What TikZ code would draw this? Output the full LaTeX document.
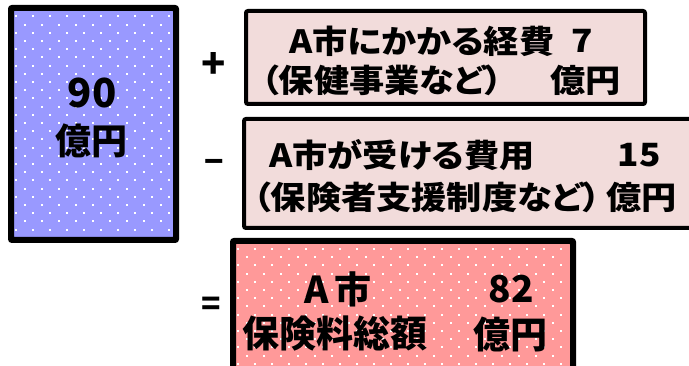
\documentclass[tikz,border=0pt]{standalone}
\usepackage{fontspec}
\setmainfont{Noto Sans CJK JP}[RawFeature=+palt]
\newfontfamily\widejp{Noto Sans CJK JP}[RawFeature=+palt,FakeStretch=1.1]
\usetikzlibrary{positioning}
\definecolor{sumblue}{RGB}{153,153,255}
\definecolor{palepink}{RGB}{242,220,219}
\definecolor{rosepink}{RGB}{255,153,153}
\tikzset{%
  every box/.style={draw=black,line width=4pt,rounded corners=2pt,anchor=north west,inner sep=0pt},
  lbl/.style={inner sep=0pt,font=\widejp\bfseries\fontsize{32}{32}\selectfont},
}

\begin{document}
\begin{tikzpicture}[x=1pt,y=-1pt,
            bigl/.style={inner sep=0pt,font=\bfseries\fontsize{37}{37}\selectfont},
            op/.style={inner sep=0pt,font=\bfseries\fontsize{32}{32}\selectfont}
            ]
            \useasboundingbox (0,0) rectangle (689,366);
            \clip (0,0) rectangle (689,366);

            % boxes
            \node[every box,fill=sumblue,minimum width=163pt,minimum height=230pt] (total) at (10,7) {};
            \node[every box,fill=palepink,minimum width=399pt,minimum height=93pt] (cost) at (244,9) {};
            \node[every box,fill=palepink,minimum width=478pt,minimum height=109pt] (aid) at (242,117) {};
            \node[every box,fill=rosepink,minimum width=338pt,minimum height=160pt] (premium) at (232,240) {};

            % white dots
            \begin{scope}
              \clip (12,9) rectangle (171,235);
              \foreach \yy in {15.5,31.9,...,236}
                \foreach \xx in {15,32,...,172}
                  \fill[white] (\xx,\yy) rectangle ++(2,2);
              \foreach \yy in {23.7,40.1,...,236}
                \foreach \xx in {23.5,40.5,...,172}
                  \fill[white] (\xx,\yy) rectangle ++(2,2);
            \end{scope}
            \begin{scope}
              \clip (234,242) rectangle (568,366);
              \foreach \yy in {248,264.4,...,366}
                \foreach \xx in {237,254,...,568}
                  \fill[white] (\xx,\yy) rectangle ++(2,2);
              \foreach \yy in {256.2,272.6,...,366}
                \foreach \xx in {245.5,262.5,...,568}
                  \fill[white] (\xx,\yy) rectangle ++(2,2);
            \end{scope}
            \draw[line width=4pt,rounded corners=2pt] (total.north west) rectangle (total.south east);
            \draw[line width=4pt,rounded corners=2pt] (premium.north west) rectangle (premium.south east);

            % left box
            \node[inner sep=0pt,font=\bfseries\fontsize{40}{40}\selectfont] (totnum) at (92,93) {90};
            \node[bigl,font=\bfseries\fontsize{36}{36}\selectfont] (totunit) at (92,141) {億円};

            % operators
            \node[op,font=\bfseries\fontsize{40}{40}\selectfont] (plus) at (214,66) {+};
            \node[op] (minus) at (214,166) {−};
            \node[op] (equal) at (211,306) {=};

            % first box
            \node[lbl,anchor=west] (costname) at (289,41) {A市にかかる経費};
            \node[lbl,anchor=east] (costnum) at (593,41) {7};
            \node[lbl,anchor=west] (costnote) at (261,80) {（保健事業など）};
            \node[lbl,anchor=east] (costunit) at (621,80) {億円};

            % second box
            \node[lbl,anchor=west] (aidname) at (269,155) {A市が受ける費用};
            \node[lbl,anchor=east] (aidnum) at (661,155) {15};
            \node[lbl,anchor=west] (aidnote) at (253,197) {（保険者支援制度など）};
            \node[lbl,anchor=east] (aidunit) at (677,197) {億円};

            % result box
            \node[bigl,anchor=west] (premname) at (304,289) {A\hspace{6pt}市};
            \node[bigl,anchor=east] (premnum) at (534,289) {82};
            \node[bigl,anchor=west] (premnote) at (242,334) {保険料総額};
            \node[bigl,anchor=east] (premunit) at (548,334) {億円};
        \end{tikzpicture}
\end{document}
